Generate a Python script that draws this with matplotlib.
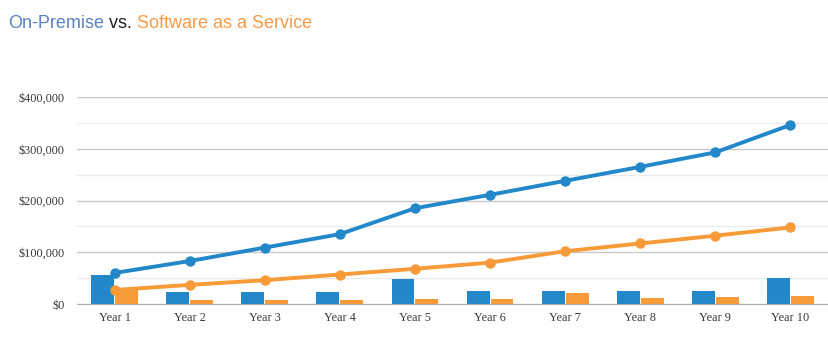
import matplotlib
matplotlib.use("Agg")
import matplotlib.pyplot as plt
import numpy as np
from matplotlib.ticker import FuncFormatter, MultipleLocator

# values
years = ["Year 1", "Year 2", "Year 3", "Year 4", "Year 5",
         "Year 6", "Year 7", "Year 8", "Year 9", "Year 10"]
onprem_annual = [56000, 23000, 23000, 23000, 48000, 25000, 25000, 25000, 25000, 50000]
saas_annual = [30000, 8000, 8000, 8000, 10000, 10000, 21000, 12000, 13500, 15500]
onprem_cumulative = [60000, 83000, 109000, 135000, 185000, 211000, 238000, 265000, 293000, 346000]
saas_cumulative = [27000, 37000, 46000, 57000, 68000, 80000, 102000, 117000, 132000, 148000]

blue = "#2288c9"
orange = "#f79a38"

fig = plt.figure(figsize=(8.29, 3.45), dpi=100)
ax = fig.add_axes([77 / 829, 41 / 345, 751 / 829, 207 / 345])

x = np.arange(len(years))
w = 0.305
ax.bar(x - w / 2 - 0.007, onprem_annual, width=w, color=blue, zorder=2)
ax.bar(x + w / 2 + 0.007, saas_annual, width=w, color=orange, zorder=2)
ax.plot(x, onprem_cumulative, color=blue, lw=2.8, marker="o", ms=6.5, zorder=3)
ax.plot(x, saas_cumulative, color=orange, lw=2.8, marker="o", ms=6.5, zorder=3)

ax.set_xlim(-0.5, len(years) - 0.5)
ax.set_ylim(0, 400000)
ax.yaxis.set_major_locator(MultipleLocator(100000))
ax.yaxis.set_minor_locator(MultipleLocator(50000))
ax.yaxis.set_major_formatter(FuncFormatter(lambda v, p: "$0" if v == 0 else "${:,.0f}".format(v)))
ax.grid(axis="y", which="major", color="#c8c8c8", lw=1, zorder=0)
ax.grid(axis="y", which="minor", color="#ebebeb", lw=1, zorder=0)
ax.set_axisbelow(True)

ax.set_xticks(x)
ax.set_xticklabels(years)
for s in ["top", "right", "left"]:
    ax.spines[s].set_visible(False)
ax.spines["bottom"].set_color("#b0b0b0")
ax.tick_params(axis="both", which="both", length=0, colors="#3a3a3a",
               labelsize=8.8)
ax.tick_params(axis="y", pad=9)
ax.tick_params(axis="x", pad=6)
for lbl in ax.get_xticklabels() + ax.get_yticklabels():
    lbl.set_fontfamily("Liberation Serif")

# two-colour title built from pieces
parts = [("On-Premise", "#5b80c2"), (" vs. ", "#222222"), ("Software as a Service", "#f79a46")]
fig.canvas.draw()
renderer = fig.canvas.get_renderer()
xpos = 8
for txt, col in parts:
    t = fig.text(xpos / 829, 1 - 23 / 345, txt, color=col, fontsize=13,
                 family="Liberation Sans", va="center", ha="left")
    bb = t.get_window_extent(renderer=renderer)
    xpos += bb.width

fig.savefig("out.png", dpi=100)
